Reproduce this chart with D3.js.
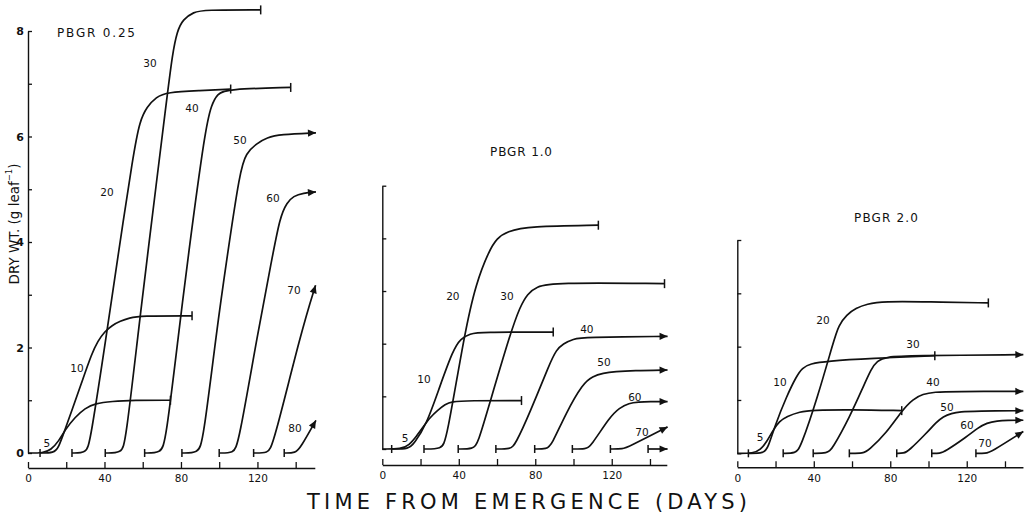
<!DOCTYPE html>
<html>
<head>
<meta charset="utf-8">
<script src="https://cdn.jsdelivr.net/npm/d3@7"></script>
<style>
  html, body { margin: 0; padding: 0; background: #fff; }
  svg { display: block; }
  text { font-family: "DejaVu Sans", sans-serif; fill: #111; }
</style>
</head>
<body>
<svg id="chart" width="1027" height="515"></svg>
<script>
// ---------------------------------------------------------------
// Leaf dry weight (g leaf-1) against time from emergence (days)
// for leaves 5, 10, 20 ... 80, under three PBGR values.
// Each series: [day, dry weight] points; first point = leaf appears.
// ---------------------------------------------------------------
const leafNames = ["5", "10", "20", "30", "40", "50", "60", "70", "80"];
const dayTicks = [0, 20, 40, 60, 80, 100, 120, 140];
const dayLabels = [0, 40, 80, 120];
const weightLabels025 = [0, 2, 4, 6, 8];

// PBGR 0.25
const growth025 = [
  [[0,0],[8,0],[12,0.06],[16,0.22],[19.4,0.44],[24.6,0.68],[29.9,0.85],[35,0.94],[43.9,0.98],[55,1.0],[74.5,1.0]],
  [[6.3,0],[13.5,0],[16,0.1],[19.4,0.45],[22.9,0.8],[28.2,1.35],[33.4,1.89],[36.5,2.12],[40,2.3],[44,2.42],[48.2,2.5],[53,2.56],[58.7,2.6],[85.8,2.6]],
  [[23,0],[30.5,0],[32.5,0.2],[41.3,2.3],[46.5,3.6],[55.2,5.7],[58.5,6.3],[62.2,6.56],[67,6.75],[72.7,6.84],[90,6.87],[106,6.9]],
  [[40.4,0],[49,0],[51,0.2],[57.8,2.33],[62.2,3.66],[73,6.84],[75.5,7.55],[78,8.0],[81,8.22],[86.7,8.36],[92,8.4],[121.7,8.4]],
  [[61,0],[69.5,0],[72,0.2],[79,2.33],[83.5,3.66],[92.8,6.18],[96,6.6],[99,6.81],[104,6.9],[137.4,6.93]],
  [[80.5,0],[89,0],[91.5,0.2],[98.7,2.33],[103.9,3.66],[110.9,5.36],[114,5.68],[119.6,5.87],[125,5.98],[131.8,6.04],[150.6,6.07]],
  [[100,0],[107.5,0],[110,0.15],[120.4,2.33],[127.5,3.66],[131.8,4.48],[135.5,4.75],[138.8,4.87],[144,4.93],[150.6,4.95]],
  [[118,0],[125.5,0],[128,0.12],[143.1,2.33],[150.4,3.18]],
  [[134,0],[140,0],[142.5,0.1],[150.6,0.62]]
];
const ends025 = ["tick","tick","tick","tick","tick","arrow","arrow","arrow","arrow"];
const labelAt025 = [[9.9,0.19],[25.6,1.61],[41.3,4.95],[63.8,7.39],[85.8,6.54],[110.9,5.93],[128.1,4.83],[139.1,3.09],[139.6,0.47]];

// PBGR 1.0
const growth10 = [
  [[0,0],[10,0],[14,0.07],[18,0.25],[21.4,0.42],[25,0.6],[29,0.74],[33,0.85],[36,0.9],[45,0.92],[72.8,0.92]],
  [[4.9,0],[14,0],[16.5,0.1],[23,0.45],[30,1.18],[37,1.88],[41,2.1],[46,2.19],[51,2.22],[89.4,2.22]],
  [[21.8,0],[31,0],[33.5,0.15],[43,2.2],[49,3.15],[56,3.78],[60,4.0],[65,4.13],[77,4.23],[113,4.25]],
  [[39.7,0],[47.5,0],[50,0.1],[56,0.85],[67,2.2],[72,2.7],[76,2.95],[80.6,3.08],[89,3.16],[147.6,3.14]],
  [[59.4,0],[67,0],[69.5,0.08],[77.1,0.68],[87.6,1.63],[91,1.88],[94.5,2.0],[100,2.09],[105,2.12],[149.2,2.14]],
  [[79.7,0],[86,0],[88.5,0.07],[96,0.68],[105,1.25],[110,1.38],[115.4,1.44],[122,1.47],[131,1.49],[149.2,1.5]],
  [[99.4,0],[106.5,0],[109,0.05],[119,0.61],[124,0.78],[129,0.87],[134,0.89],[139.7,0.9],[149.2,0.9]],
  [[119.3,0],[126,0],[128.5,0.04],[149.2,0.42]],
  [[139,0],[149.2,0]]
];
const ends10 = ["tick","tick","tick","tick","arrow","arrow","arrow","arrow","arrow"];
const labelAt10 = [[11.9,0.21],[21.8,1.33],[36.9,2.91],[65.2,2.91],[107,2.28],[115.9,1.65],[132.1,0.99],[135.8,0.32],null];

// PBGR 2.0
const growth20 = [
  [[0,0],[8.4,0],[12,0.06],[15.5,0.22],[18.8,0.44],[22,0.6],[25.8,0.69],[32.8,0.78],[38.9,0.81],[60,0.82],[86,0.8]],
  [[5.8,0],[14,0],[16,0.1],[19.7,0.52],[25.8,1.07],[31,1.45],[34,1.6],[38,1.68],[46.8,1.73],[70,1.78],[103.3,1.83]],
  [[24,0],[30.5,0],[33,0.1],[42,1.05],[50.5,2.12],[53,2.4],[57.2,2.6],[62,2.72],[67.7,2.8],[76.4,2.85],[100,2.84],[131.3,2.82]],
  [[39.7,0],[47,0],[49.5,0.07],[58.9,0.69],[65.9,1.25],[70,1.58],[73,1.73],[78,1.81],[90,1.83],[149.6,1.85]],
  [[58.6,0],[66,0],[68.5,0.05],[78,0.38],[86,0.8],[92,1.02],[97,1.11],[103,1.15],[113,1.16],[149.6,1.16]],
  [[83.4,0],[87,0],[89.5,0.04],[99,0.38],[104,0.58],[107.7,0.69],[112,0.75],[116.5,0.78],[125,0.79],[149.6,0.8]],
  [[101.7,0],[106,0],[108.5,0.03],[120,0.31],[126,0.48],[130.4,0.57],[136,0.61],[141,0.62],[149.6,0.62]],
  [[124.8,0],[130,0],[132.5,0.02],[149.6,0.41]]
];
const ends20 = ["tick","tick","tick","arrow","arrow","arrow","arrow","arrow"];
const labelAt20 = [[11.9,0.31],[22.3,1.34],[44.8,2.5],[91.9,2.05],[102.3,1.34],[109.7,0.87],[120.1,0.53],[129.5,0.19]];

// ---------------------------------------------------------------
const svg = d3.select("#chart");
const pxPerDay = 1.912;

const layout = [
  { x0: 28,    dayMax: 150,   yBase: 453,   yTop: 31,    wMax: 8, axisY: 468,   title: "PBGR 0.25", tx: 57,  ty: 33,  tAnchor: "start",  tLen: 78 },
  { x0: 382.3, dayMax: 148.8, yBase: 449,   yTop: 185.7, wMax: 5, axisY: 465,   title: "PBGR 1.0",  tx: 521, ty: 152, tAnchor: "middle", tLen: 62 },
  { x0: 737.3, dayMax: 149.4, yBase: 453.3, yTop: 240,   wMax: 4, axisY: 467.3, title: "PBGR 2.0",  tx: 886, ty: 218, tAnchor: "middle", tLen: 64 }
];
const panelData = [
  [growth025, ends025, labelAt025, weightLabels025],
  [growth10, ends10, labelAt10, []],
  [growth20, ends20, labelAt20, []]
];

layout.forEach((L, i) => {
  const [series, ends, labelAt, wLabels] = panelData[i];
  const g = svg.append("g");

  const x = d3.scaleLinear().domain([0, L.dayMax]).range([L.x0, L.x0 + L.dayMax * pxPerDay]);
  const y = d3.scaleLinear().domain([0, L.wMax]).range([L.yBase, L.yTop]);

  // y axis: inward ticks every unit
  const yAxis = d3.axisLeft(y)
    .tickValues(d3.range(0, L.wMax + 1))
    .tickSizeInner(-4).tickSizeOuter(0).tickPadding(4)
    .tickFormat(d => wLabels.includes(d) ? String(d) : "");
  const ya = g.append("g").attr("transform", `translate(${L.x0},0)`).call(yAxis);
  ya.select(".domain").attr("stroke", "#111").attr("stroke-width", 1.4);
  ya.selectAll(".tick line").attr("stroke", "#111").attr("stroke-width", 1.3);
  ya.selectAll(".tick text").attr("font-size", 11).attr("font-weight", "bold")
    .attr("font-family", "DejaVu Sans, sans-serif").attr("fill", "#111");

  // x axis: separate rule below the baseline, ticks pointing up
  const xAxis = d3.axisBottom(x)
    .tickValues(dayTicks)
    .tickSizeInner(-6).tickSizeOuter(0).tickPadding(7)
    .tickFormat(d => dayLabels.includes(d) ? String(d) : "");
  const xa = g.append("g").attr("transform", `translate(0,${L.axisY})`).call(xAxis);
  xa.select(".domain").attr("stroke", "#111").attr("stroke-width", 1.4);
  xa.selectAll(".tick line").attr("stroke", "#111").attr("stroke-width", 1.3);
  xa.selectAll(".tick text").attr("font-size", 10.5)
    .attr("font-family", "DejaVu Sans, sans-serif").attr("fill", "#111");

  // panel title
  g.append("text")
    .attr("x", L.tx).attr("y", L.ty)
    .attr("text-anchor", L.tAnchor).attr("dominant-baseline", "central")
    .attr("font-size", 12).attr("textLength", L.tLen).attr("lengthAdjust", "spacing")
    .text(L.title);

  const line = d3.line().x(d => x(d[0])).y(d => y(d[1])).curve(d3.curveBasis);

  series.forEach((pts, k) => {
    g.append("path")
      .attr("d", line(pts))
      .attr("fill", "none").attr("stroke", "#111").attr("stroke-width", 1.7)
      .attr("stroke-linejoin", "round");

    // emergence marker
    const s = pts[0];
    if (s[0] > 0) {
      g.append("line")
        .attr("x1", x(s[0])).attr("x2", x(s[0]))
        .attr("y1", y(s[1]) - 4).attr("y2", y(s[1]) + 4)
        .attr("stroke", "#111").attr("stroke-width", 1.5);
    }

    // end marker: tick (leaf senesced) or arrow (still growing)
    const e = pts[pts.length - 1];
    const p = pts[pts.length - 2];
    const ex = x(e[0]), ey = y(e[1]);
    if (ends[k] === "tick") {
      g.append("line")
        .attr("x1", ex).attr("x2", ex).attr("y1", ey - 4.5).attr("y2", ey + 4.5)
        .attr("stroke", "#111").attr("stroke-width", 1.5);
    } else {
      const dx = ex - x(p[0]), dy = ey - y(p[1]);
      const len = Math.hypot(dx, dy);
      const ux = dx / len, uy = dy / len;
      const Lh = 8, W = 3.6;
      const bx = ex - ux * Lh, by = ey - uy * Lh;
      g.append("path")
        .attr("d", `M${ex},${ey}L${bx - uy * W},${by + ux * W}L${bx + uy * W},${by - ux * W}Z`)
        .attr("fill", "#111");
    }

    // leaf number
    const la = labelAt[k];
    if (la) {
      g.append("text")
        .attr("x", x(la[0])).attr("y", y(la[1]))
        .attr("text-anchor", "middle").attr("dominant-baseline", "central")
        .attr("font-size", 10.5)
        .text(leafNames[k]);
    }
  });
});

// y-axis title
const yTitle = svg.append("text")
  .attr("transform", "translate(14,224) rotate(-90)")
  .attr("text-anchor", "middle").attr("dominant-baseline", "central")
  .attr("font-size", 13.5);
yTitle.append("tspan").text("DRY WT. (g leaf");
yTitle.append("tspan").attr("font-size", 8.5).attr("dy", -5).text("−1");
yTitle.append("tspan").attr("dy", 5).text(")");

// x-axis title shared by the three panels
svg.append("text")
  .attr("x", 527).attr("y", 502)
  .attr("text-anchor", "middle").attr("dominant-baseline", "central")
  .attr("font-size", 21).attr("textLength", 440).attr("lengthAdjust", "spacing")
  .text("TIME FROM EMERGENCE (DAYS)");
</script>
</body>
</html>
